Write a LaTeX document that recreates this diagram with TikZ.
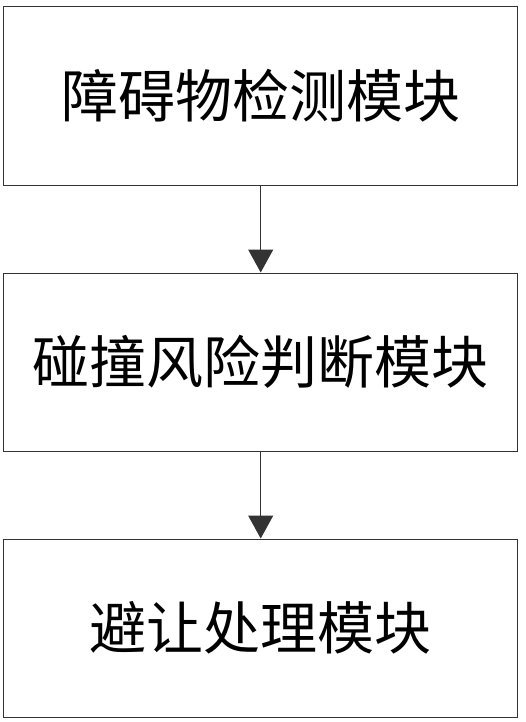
\documentclass[tikz,border=0pt]{standalone}
\usepackage{fontspec}
\newfontfamily\cjk{Noto Sans CJK SC}
\usetikzlibrary{arrows.meta,positioning}

\begin{document}
\begin{tikzpicture}[x=1pt,y=1pt,node distance=87pt]
      \useasboundingbox (0,0) rectangle (526,-722);
      \begin{scope}[every node/.style={rectangle,draw=black!80,line width=1pt,
          minimum width=514pt,minimum height=178pt,inner sep=0pt,
          font=\cjk\fontsize{57}{60}\selectfont}]
        \node (detect) at (260.7,-96) {障碍物检测模块};
        \node (risk) [below=of detect] {碰撞风险判断模块};
        \node (avoid) [below=of risk] {避让处理模块};
      \end{scope}
      \begin{scope}
        [every edge/.style={draw=black!80,line width=1pt,
          -{Triangle[width=25pt,length=23pt]}}]
        \path (detect) edge (risk);
        \path (risk) edge (avoid);
      \end{scope}
    \end{tikzpicture}
\end{document}
